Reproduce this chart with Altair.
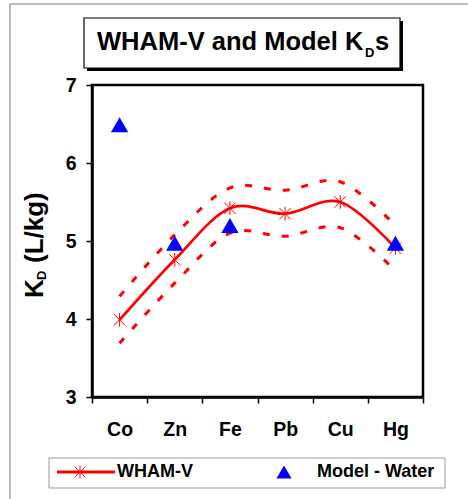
import altair as alt
import pandas as pd

# ---- data ----
categories = ["Co", "Zn", "Fe", "Pb", "Cu", "Hg"]
wham = [3.99, 4.76, 5.42, 5.35, 5.50, 4.91]
wham_upper = [4.29, 5.08, 5.68, 5.65, 5.76, 5.20]
wham_lower = [3.69, 4.46, 5.10, 5.06, 5.17, 4.62]
model_cats = ["Co", "Zn", "Fe", "Hg"]
model_water = [6.49, 4.97, 5.20, 4.97]
y_ticks = [3, 4, 5, 6, 7]

FONT = "Liberation Sans"
OX, OY = 92, 85          # plot-area origin in the page
W, H = 331, 312

df_line = pd.DataFrame({"metal": categories, "kd": wham, "up": wham_upper, "lo": wham_lower})
df_model = pd.DataFrame({"metal": model_cats, "kd": model_water})

xenc = alt.X("metal:N", sort=categories,
             scale=alt.Scale(type="band", paddingInner=0, paddingOuter=0),
             axis=alt.Axis(title=None, tickBand="extent", labelAngle=0,
                           labelFont=FONT, labelFontSize=19.5, labelFontWeight="bold",
                           labelColor="black", labelPadding=17, tickSize=6,
                           tickColor="black", tickWidth=1.5, domainColor="black",
                           domainWidth=2.5, grid=False))
yscale = alt.Scale(domain=[3, 7], nice=False, zero=False)
yaxis = alt.Axis(title=None, values=y_ticks, labelFont=FONT, labelFontSize=19.5,
                 labelFontWeight="bold", labelColor="black", labelPadding=10,
                 tickSize=6, tickColor="black", tickWidth=1.5, domainColor="black",
                 domainWidth=2.5, grid=False)

base = alt.Chart(df_line)

upper = base.mark_line(color="red", strokeWidth=3, strokeDash=[7, 12],
                       interpolate="cardinal").encode(
    x=xenc, y=alt.Y("up:Q", scale=yscale, axis=yaxis))
lower = base.mark_line(color="red", strokeWidth=3, strokeDash=[7, 12],
                       interpolate="cardinal").encode(
    x=xenc, y=alt.Y("lo:Q", scale=yscale, axis=yaxis))
line = base.mark_line(color="red", strokeWidth=2.7, interpolate="cardinal").encode(
    x=xenc, y=alt.Y("kd:Q", scale=yscale, axis=yaxis))

ASTER = "M-1,-1L1,1M-1,1L1,-1M0,-1.2L0,1.2"
stars = base.mark_point(shape=ASTER, filled=False, color="red", strokeWidth=1,
                        size=130, opacity=1).encode(
    x=xenc, y=alt.Y("kd:Q", scale=yscale, axis=yaxis))

tris = alt.Chart(df_model).mark_point(shape="triangle-up", filled=True, color="#0000FF",
                                      size=300, opacity=1).encode(
    x=xenc, y=alt.Y("kd:Q", scale=yscale, axis=yaxis))

one = alt.Data(values=[{"k": 0}])


def px(v):
    return alt.value(v - OX)


def py(v):
    return alt.value(v - OY)


def box(x1, y1, x2, y2, **kw):
    return alt.Chart(one).mark_rect(**kw).encode(x=px(x1), x2=px(x2), y=py(y1), y2=py(y2))


def label(txt, x, y, **kw):
    return alt.Chart(one).mark_text(text=txt, font=FONT, fontWeight="bold",
                                    color="black", **kw).encode(x=px(x), y=py(y))


# outer frame
frame = box(10, 4, 520, 540, fill=None, stroke="#777777", strokeWidth=1)

# title box with shadow
shadow = box(87, 21, 403, 71, fill="black")
tbox = box(84, 18, 400, 68, fill="white", stroke="black", strokeWidth=1.2)
t1 = label("WHAM-V and Model K", 97, 50, fontSize=25.5, align="left", baseline="alphabetic")
t2 = label("D", 365, 57, fontSize=13, align="left", baseline="alphabetic")
t3 = label("s", 375, 50, fontSize=25.5, align="left", baseline="alphabetic")

# y axis title (rotated)
a1 = label("K", 43, 298, fontSize=26, angle=270, align="left", baseline="alphabetic")
a2 = label("D", 46, 280, fontSize=13, angle=270, align="left", baseline="alphabetic")
a3 = label("(L/kg)", 43, 263, fontSize=26, angle=270, align="left", baseline="alphabetic")

# legend
lbox = box(49, 458, 445, 488, fill="white", stroke="#999999", strokeWidth=1)
lline = alt.Chart(one).mark_rule(color="red", strokeWidth=3).encode(
    x=px(57), x2=px(115), y=py(472))
lstar = alt.Chart(one).mark_point(shape=ASTER, filled=False, color="red", strokeWidth=1,
                                  size=110, opacity=1).encode(x=px(80), y=py(472))
ltri = alt.Chart(one).mark_point(shape="triangle-up", filled=True, color="#0000FF",
                                 size=230, opacity=1).encode(x=px(284), y=py(472))
l1 = label("WHAM-V", 117, 472, fontSize=18, align="left", baseline="middle")
l2 = label("Model - Water", 317, 472, fontSize=18, align="left", baseline="middle")

chart = alt.layer(
    frame, shadow, tbox, t1, t2, t3, a1, a2, a3,
    upper, lower, line, stars, tris,
    lbox, lline, lstar, ltri, l1, l2,
).properties(
    width=W, height=H,
    autosize=alt.AutoSizeParams(type="none"),
    padding={"left": OX, "top": OY, "right": 468 - OX - W, "bottom": 499 - OY - H},
    background="white",
).configure_view(stroke="black", strokeWidth=2.5)

chart.save("out.html", embed_options={"renderer": "svg", "actions": False})
